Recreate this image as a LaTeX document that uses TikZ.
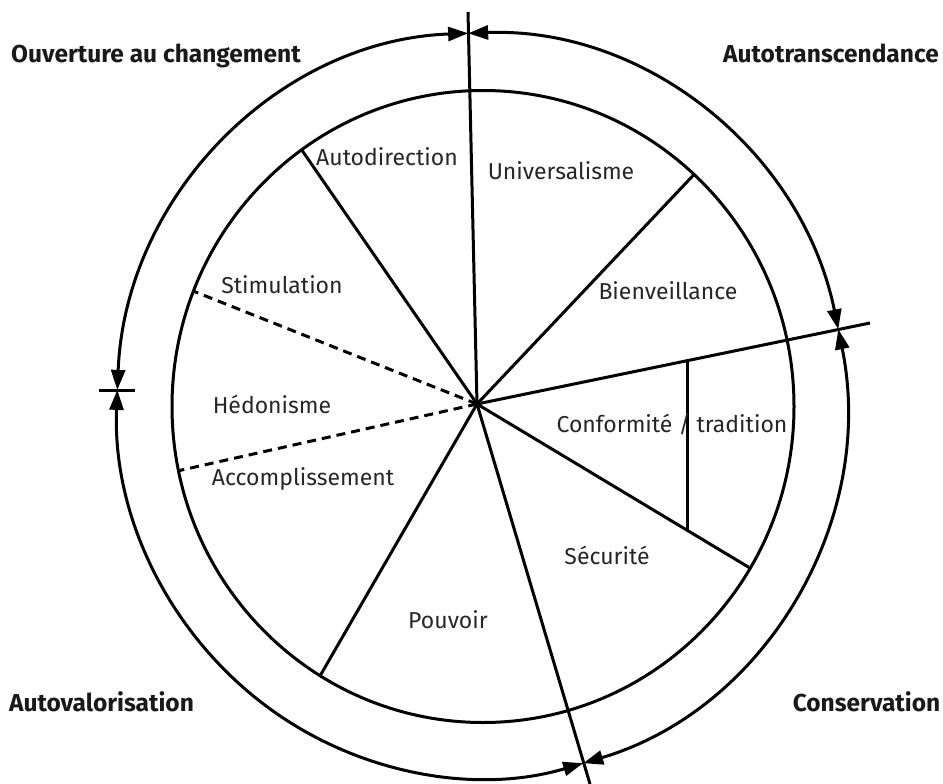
\documentclass[tikz,border=0pt]{standalone}
\usepackage{fontspec}
\setmainfont{Fira Sans}
\usetikzlibrary{arrows.meta}
\begin{document}
\begin{tikzpicture}[x=1pt,y=1pt,
  ln/.style={line width=3pt, black},
  dln/.style={ln, dash pattern=on 9pt off 6pt},
  tip/.tip={Triangle[length=20pt,width=14pt]},
  arr/.style={ln, tip-tip},
  head/.style={font=\fontsize{24.5}{28}\selectfont\bfseries, text=black!90, inner sep=0pt, anchor=base},
  lab/.style={font=\fontsize{23}{27}\selectfont, text=black!85, inner sep=0pt, anchor=base},
]
\useasboundingbox (0,0) rectangle (943,-784);
\coordinate (C) at (483,-406.5);
\coordinate (O) at (481.5,-405.5);
\coordinate (hub) at (477,-404);
\coordinate (T) at (468,-12);
\coordinate (B) at (590,-784);
\coordinate (R) at (870,-323);
\coordinate (v1) at (687,-361);
\coordinate (v2) at (687,-530);
\coordinate (tL1) at (99,-390);
\coordinate (tL2) at (135,-390);
% inner circle
\draw[ln] (C) ellipse [x radius=311pt, y radius=316pt];
% spokes inside the inner circle
\begin{scope}
  \clip (C) ellipse [x radius=311pt, y radius=316pt];
  \draw[ln] (hub) -- ++(124.6:400);
  \draw[ln] (hub) -- ++(46.6:400);
  \draw[ln] (hub) -- ++(240:400);
  \draw[ln] (hub) -- ++(329:400);
  \draw[dln] (hub) -- ++(158.3:400);
  \draw[dln] (hub) -- ++(192.6:400);
\end{scope}
% long axes
\draw[ln] (hub) -- (T);
\draw[ln] (hub) -- (B);
\draw[ln] (hub) -- (R);
\draw[ln] (v1) -- (v2);
% outer arcs
\path (O) ++(92.1:364.5 and 372.5) coordinate (pT);
\path (O) ++(11.8:364.5 and 372.5) coordinate (pR);
\path (O) ++(177.6:364.5 and 372.5) coordinate (pL);
\path (O) ++(286.2:364.5 and 372.5) coordinate (pB);
\draw[arr] (pR) arc[start angle=11.8, end angle=92.1, x radius=364.5pt, y radius=372.5pt];
\draw[arr] (pT) arc[start angle=92.1, end angle=177.6, x radius=364.5pt, y radius=372.5pt];
\draw[arr] (pL) arc[start angle=177.6, end angle=286.2, x radius=364.5pt, y radius=372.5pt];
\draw[arr] (pB) arc[start angle=286.2, end angle=371.8, x radius=364.5pt, y radius=372.5pt];
\draw[ln] (tL1) -- (tL2);
% headings
\node[head] (h1) at (156,-63) {Ouverture au changement};
\node[head] (h2) at (831,-63) {Autotranscendance};
\node[head] (h3) at (101.5,-711) {Autovalorisation};
\node[head] (h4) at (866.5,-711) {Conservation};
% inner labels
\node[lab] (l1) at (387,-165) {Autodirection};
\node[lab] (l2) at (561,-179) {Universalisme};
\node[lab] (l3) at (668,-299) {Bienveillance};
\node[lab] (l4) at (282,-293) {Stimulation};
\node[lab] (l5) at (272,-413) {Hédonisme};
\node[lab] (l6) at (672,-432) {Conformité / tradition};
\node[lab] (l7) at (303,-485) {Accomplissement};
\node[lab] (l8) at (607,-564) {Sécurité};
\node[lab] (l9) at (448,-628) {Pouvoir};
\end{tikzpicture}
\end{document}
